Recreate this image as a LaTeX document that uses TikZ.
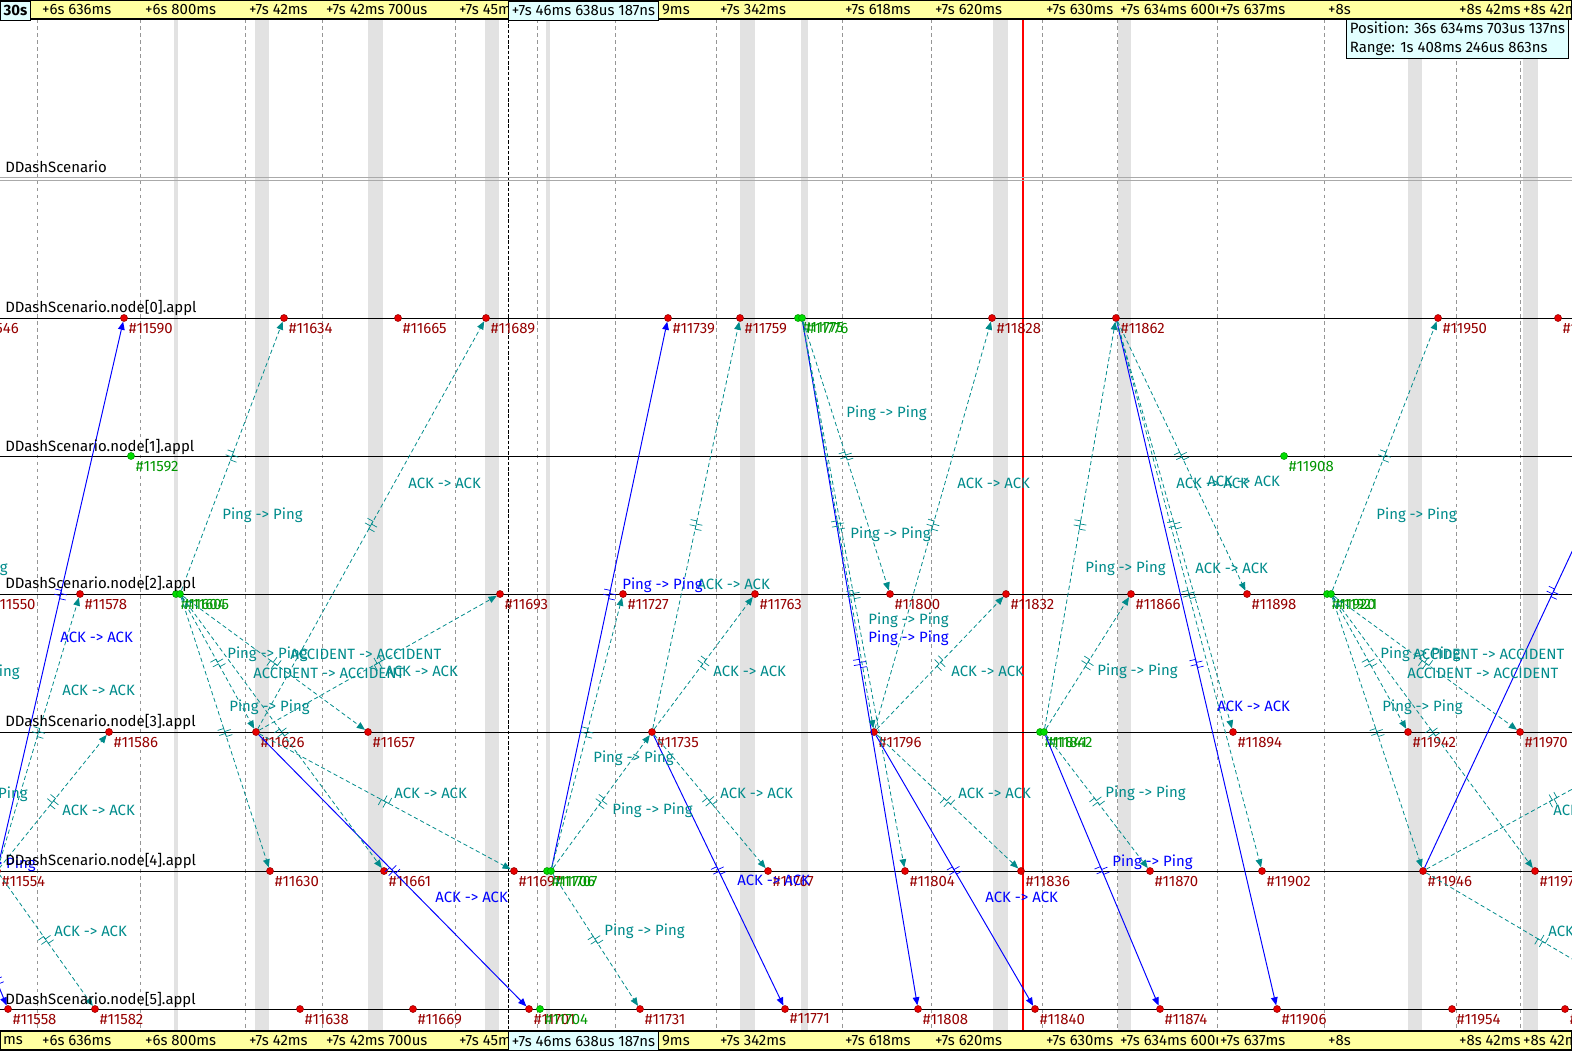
\documentclass[tikz,border=0pt]{standalone}
\usepackage{fontspec}
\setmainfont{Fira Sans}
\usetikzlibrary{arrows.meta, positioning, decorations.markings}
\definecolor{SeqTeal}{RGB}{0,139,139}
\definecolor{SeqBlue}{RGB}{0,0,255}
\definecolor{SeqRed}{RGB}{230,0,0}
\definecolor{SeqDarkRed}{RGB}{150,0,0}
\definecolor{SeqGreen}{RGB}{0,220,0}
\definecolor{SeqDarkGreen}{RGB}{0,150,0}
\definecolor{SeqBand}{RGB}{226,226,226}
\definecolor{SeqGrid}{RGB}{150,150,150}
\definecolor{SeqRoot}{RGB}{170,170,170}
\definecolor{SeqYellow}{RGB}{255,255,160}
\definecolor{SeqCyan}{RGB}{225,255,255}
\newcommand{\gapmark}{%
  \draw[solid, -, line width=0.4pt] (-2.4pt,-3.6pt) -- (-2.4pt,0pt) -- (-0.6pt,0pt) -- (-0.6pt,3.6pt);
  \draw[solid, -, line width=0.4pt] (0.6pt,-3.6pt) -- (0.6pt,0pt) -- (2.4pt,0pt) -- (2.4pt,3.6pt);}

\begin{document}
\begin{tikzpicture}[x=0.02cm, y=-0.02cm,
  every node/.style={font=\fontsize{8.5}{10.8}\selectfont},
  tickline/.style={SeqGrid, line width=0.4pt, dash pattern=on 2pt off 2pt},
  axisline/.style={black, line width=0.5pt},
  modtxt/.style={anchor=west, inner sep=0pt},
  evr/.style={circle, draw=SeqDarkRed, fill=SeqRed, line width=0.3pt, minimum size=4pt, inner sep=0pt},
  evg/.style={circle, draw=SeqDarkGreen, fill=SeqGreen, line width=0.3pt, minimum size=4pt, inner sep=0pt},
  evtxt/.style={text=SeqDarkRed, inner sep=0pt, label distance=1.5pt},
  evtxtg/.style={text=SeqDarkGreen, inner sep=0pt, label distance=1.5pt},
  msg/.style={SeqTeal, line width=0.45pt, dash pattern=on 2.4pt off 1.6pt,
    -{Triangle[length=4.6pt, width=3.8pt]},
    postaction={decorate, decoration={markings, mark=at position 0.5 with {\gapmark}}}},
  msgb/.style={SeqBlue, line width=0.55pt, -{Triangle[length=4.6pt, width=3.8pt]},
    postaction={decorate, decoration={markings, mark=at position 0.5 with {\gapmark}}}},
  msgtxt/.style={text=SeqTeal, inner sep=0pt, anchor=west},
  msgtxtb/.style={text=SeqBlue, inner sep=0pt, anchor=west},
  tick/.style={anchor=west, fill=SeqYellow, inner sep=1pt},
  curbox/.style={draw, fill=SeqCyan, line width=0.6pt, inner sep=1pt,
    minimum height=0.38cm, anchor=north west}
]
\useasboundingbox (0,0) rectangle (1572,1052);
\clip (0,0) rectangle (1572,1052);

% time bands and grid
\foreach \a/\b in {174/178, 255/269, 368/383, 485/499, 546/550, 740/755, 801/808,
  993/1008, 1118/1131, 1408/1422, 1523/1538}
  \fill[SeqBand] (\a,19) rectangle (\b,1031);
\foreach \x in {37, 140, 245, 322, 455, 537, 615, 716, 842, 931, 1042, 1117, 1217,
  1324, 1456, 1520}
  \draw[tickline] (\x,19) -- (\x,1031);
\draw[black, line width=0.5pt, dash pattern=on 2pt off 1pt] (508,19) -- (508,1031);
\draw[red, line width=0.6pt] (1023,19) -- (1023,1031);

% axes
\draw[SeqRoot, line width=0.5pt] (0,177) -- (1572,177);
\draw[SeqRoot, line width=0.5pt] (0,180) -- (1572,180);
\foreach \y in {318, 456, 594, 732, 871, 1009}
  \draw[axisline] (0,\y) -- (1572,\y);

% events
\foreach \x/\n in {-30/11546, 124/11590, 284/11634, 398/11665, 486/11689, 668/11739,
  740/11759, 992/11828, 1116/11862, 1438/11950, 1558/11982}
  \node[evr, label={[evtxt]below right:\#\n}] (e\n) at (\x,318) {};
\node[evg, label={[evtxtg]below right:\#11775}] (e11775) at (798,318) {};
\node[evg, label={[evtxtg]below right:\#11776}] (e11776) at (802,318) {};

\node[evg, label={[evtxtg]below right:\#11592}] (e11592) at (131,456) {};
\node[evg, label={[evtxtg]below right:\#11908}] (e11908) at (1284,456) {};

\foreach \x/\n in {-13/11550, 80/11578, 500/11693, 623/11727, 755/11763, 890/11800,
  1006/11832, 1131/11866, 1247/11898}
  \node[evr, label={[evtxt]below right:\#\n}] (e\n) at (\x,594) {};
\node[evg, label={[evtxtg]below right:\#11604}] (e11604) at (176,594) {};
\node[evg, label={[evtxtg]below right:\#11605}] (e11605) at (180,594) {};
\node[evg, label={[evtxtg]below right:\#11920}] (e11920) at (1327,594) {};
\node[evg, label={[evtxtg]below right:\#11921}] (e11921) at (1331,594) {};

\foreach \x/\n in {109/11586, 256/11626, 368/11657, 652/11735, 874/11796, 1233/11894,
  1408/11942, 1520/11970}
  \node[evr, label={[evtxt]below right:\#\n}] (e\n) at (\x,732) {};
\node[evg, label={[evtxtg]below right:\#11841}] (e11841) at (1040,732) {};
\node[evg, label={[evtxtg]below right:\#11842}] (e11842) at (1044,732) {};

\foreach \x/\n in {-3/11554, 270/11630, 384/11661, 514/11697, 768/11767, 905/11804,
  1021/11836, 1150/11870, 1262/11902, 1423/11946, 1535/11974}
  \node[evr, label={[evtxt]below right:\#\n}] (e\n) at (\x,871) {};
\node[evg, label={[evtxtg]below right:\#11706}] (e11706) at (547,871) {};
\node[evg, label={[evtxtg]below right:\#11707}] (e11707) at (551,871) {};

\foreach \x/\n in {8/11558, 95/11582, 300/11638, 413/11669, 529/11701, 640/11731,
  785/11771, 918/11808, 1035/11840, 1160/11874, 1277/11906, 1452/11954, 1565/11986}
  \node[evr, label={[evtxt]below right:\#\n}] (e\n) at (\x,1009) {};
\node[evg, label={[evtxtg]below right:\#11704}] (e11704) at (540,1009) {};

% loose ends outside the window
\coordinate (offl5) at (-14,955);
\coordinate (offr0) at (1681,318);
\coordinate (offr3) at (1680,730);
\coordinate (offr5) at (1657,1009);

% messages
\draw[msgb] (e11554) -- (e11590);
\draw[msgb] (offl5) -- (e11558);
\draw[msgb] (e11626) -- (e11701);
\draw[msgb] (e11707) -- (e11739);
\draw[msgb] (e11735) -- (e11771);
\draw[msgb] (e11776) -- (e11808);
\draw[msgb] (e11796) -- (e11840);
\draw[msgb] (e11842) -- (e11874);
\draw[msgb] (e11862) -- (e11906);
\draw[msgb] (e11946) -- (offr0);

\draw[msg] (e11554) -- (e11578);
\draw[msg] (e11554) -- (e11586);
\draw[msg] (e11554) -- (e11582);
\draw[msg] (e11605) -- (e11634);
\draw[msg] (e11605) -- (e11626);
\draw[msg] (e11605) -- (e11657);
\draw[msg] (e11605) -- (e11630);
\draw[msg] (e11605) -- (e11661);
\draw[msg] (e11626) -- (e11689);
\draw[msg] (e11626) -- (e11693);
\draw[msg] (e11626) -- (e11697);
\draw[msg] (e11707) -- (e11727);
\draw[msg] (e11707) -- (e11735);
\draw[msg] (e11707) -- (e11731);
\draw[msg] (e11735) -- (e11759);
\draw[msg] (e11735) -- (e11763);
\draw[msg] (e11735) -- (e11767);
\draw[msg] (e11776) -- (e11800);
\draw[msg] (e11776) -- (e11796);
\draw[msg] (e11776) -- (e11804);
\draw[msg] (e11796) -- (e11828);
\draw[msg] (e11796) -- (e11832);
\draw[msg] (e11796) -- (e11836);
\draw[msg] (e11842) -- (e11862);
\draw[msg] (e11842) -- (e11866);
\draw[msg] (e11842) -- (e11870);
\draw[msg] (e11862) -- (e11898);
\draw[msg] (e11862) -- (e11894);
\draw[msg] (e11862) -- (e11902);
\draw[msg] (e11921) -- (e11950);
\draw[msg] (e11921) -- (e11942);
\draw[msg] (e11921) -- (e11946);
\draw[msg] (e11921) -- (e11970);
\draw[msg] (e11921) -- (e11974);
\draw[msg] (e11946) -- (offr3);
\draw[msg] (e11946) -- (offr5);

% message names
\foreach \x/\y/\t [count=\i] in {846/413/Ping -> Ping, 408/483/ACK -> ACK,
  957/483/ACK -> ACK, 1176/483/ACK -> ACK, 1207/481/ACK -> ACK, 222/515/Ping -> Ping,
  1376/515/Ping -> Ping, 850/534/Ping -> Ping, 1085/568/Ping -> Ping,
  1195/568/ACK -> ACK, 697/584/ACK -> ACK, 868/620/Ping -> Ping, 227/654/Ping -> Ping,
  290/654/ACCIDENT -> ACCIDENT, 253/673/ACCIDENT -> ACCIDENT, 385/671/ACK -> ACK,
  713/671/ACK -> ACK, 951/671/ACK -> ACK, 1097/671/Ping -> Ping,
  1380/654/Ping -> Ping, 1413/654/ACCIDENT -> ACCIDENT,
  1407/673/ACCIDENT -> ACCIDENT, 62/690/ACK -> ACK, 229/707/Ping -> Ping,
  1382/707/Ping -> Ping, 593/758/Ping -> Ping, 394/793/ACK -> ACK, 720/793/ACK -> ACK,
  958/793/ACK -> ACK, 1105/793/Ping -> Ping, 62/810/ACK -> ACK, 612/810/Ping -> Ping,
  1553/810/ACK -> ACK, 54/931/ACK -> ACK, 604/931/Ping -> Ping, 1548/931/ACK -> ACK}
  \node[msgtxt] (mt\i) at (\x,\y) {\t};
\foreach \x/\y [count=\i] in {8/568, 20/672, 28/794}
  \node[msgtxt, anchor=east] (mtl\i) at (\x,\y) {Ping -> Ping};
\foreach \x/\y/\t [count=\i] in {60/637/ACK -> ACK, 622/585/Ping -> Ping,
  868/638/Ping -> Ping, 1217/706/ACK -> ACK, 1112/862/Ping -> Ping,
  435/897/ACK -> ACK, 737/880/ACK -> ACK, 985/897/ACK -> ACK}
  \node[msgtxtb] (mb\i) at (\x,\y) {\t};
\node[msgtxtb, anchor=east] (mbl1) at (36,864) {Ping -> Ping};

% module names
\node[modtxt] (mroot) at (5,167) {DDashScenario};
\foreach \i/\y in {0/308, 1/447, 2/584, 3/722, 4/861, 5/1000}
  \node[modtxt] (m\i) at (5,\y) {DDashScenario.node[\i].appl};

% time rulers
\fill[SeqYellow] (0,0) rectangle (1572,19);
\fill[SeqYellow] (0,1031) rectangle (1572,1050);
\foreach \x/\t [count=\i] in {40/+6s 636ms, 143/+6s 800ms, 247/+7s 42ms,
  324/+7s 42ms 700us, 457/+7s 45ms, 660/9ms, 718/+7s 342ms, 843/+7s 618ms,
  933/+7s 620ms, 1044/+7s 630ms, 1118/+7s 634ms 600us, 1218/+7s 637ms, 1326/+8s,
  1457/+8s 42ms, 1521/+8s 42ms}
  {\node[tick] (tt\i) at (\x,9.5) {\t};
   \node[tick] (tb\i) at (\x,1040.5) {\t};}
\node[tick] (tb0) at (1,1040.5) {ms};
\draw[black, line width=0.6pt] (0,0.5) rectangle (1571.5,19);
\draw[black, line width=0.6pt] (0,1031) rectangle (1571.5,1050);
\node[curbox, minimum width=0.6cm, font=\fontsize{8.5}{10}\selectfont\bfseries] (zero) at (0,0.5) {30s};
\node[curbox, minimum width=3cm] (curtop) at (508,0.5) {+7s 46ms 638us 187ns};
\node[curbox, minimum width=3cm] (curbot) at (508,1031) {+7s 46ms 638us 187ns};

% position readout
\node[draw, fill=SeqCyan, line width=0.5pt, anchor=north west, align=left,
      inner xsep=2pt, inner ysep=1.5pt] (pos) at (1346,19)
  {Position: 36s 634ms 703us 137ns\\Range: 1s 408ms 246us 863ns};
\end{tikzpicture}
\end{document}
